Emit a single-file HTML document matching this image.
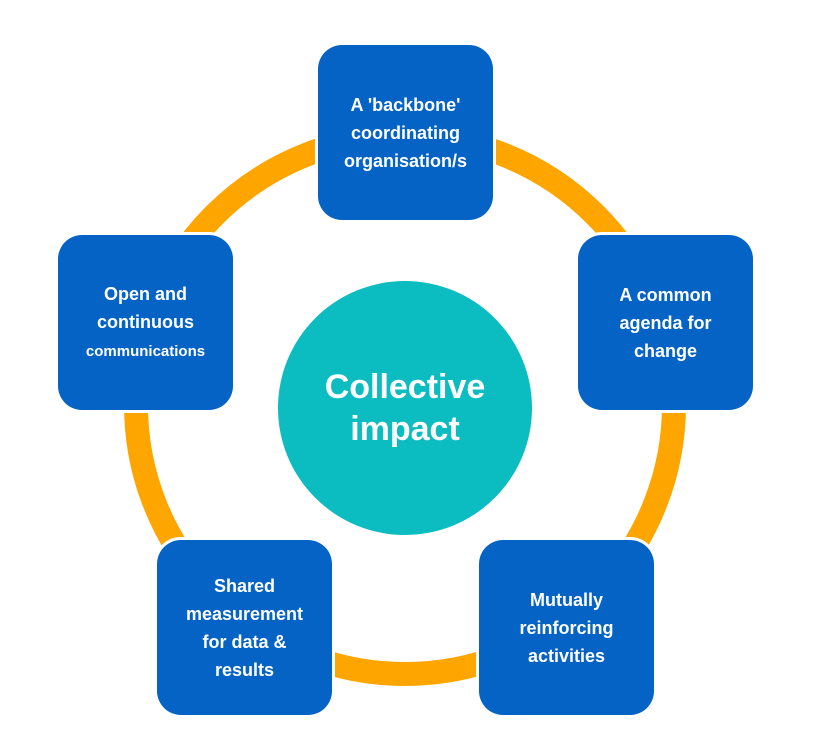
<!DOCTYPE html>
<html><head><meta charset="utf-8"><style>
body{margin:0;width:815px;height:737px;background:#fff;position:relative;overflow:hidden;font-family:"Liberation Sans",sans-serif;}
.b{position:absolute;width:175px;height:175px;background:#0563c6;border-radius:24px;color:#fff;font-weight:bold;font-size:18px;line-height:28px;display:flex;align-items:center;justify-content:center;text-align:center;box-shadow:0 0 0 3px #fff;}
.c{position:absolute;left:278px;top:281px;width:254px;height:254px;border-radius:50%;background:#0bbcc1;color:#fff;font-weight:bold;font-size:34px;line-height:42px;display:flex;align-items:center;justify-content:center;text-align:center;}
</style></head><body>
<svg width="815" height="737" style="position:absolute;left:0;top:0"><circle cx="405" cy="405" r="269" fill="none" stroke="#ffa500" stroke-width="24"/></svg>
<div class="c">Collective<br>impact</div>
<div class="b" style="left:318px;top:45px">A 'backbone'<br>coordinating<br>organisation/s</div>
<div class="b" style="left:578px;top:235px">A common<br>agenda for<br>change</div>
<div class="b" style="left:479px;top:540px">Mutually<br>reinforcing<br>activities</div>
<div class="b" style="left:157px;top:540px">Shared<br>measurement<br>for data &amp;<br>results</div>
<div class="b" style="left:58px;top:235px"><div>Open and<br>continuous<br><span style="font-size:15px">communications</span></div></div>
</body></html>
